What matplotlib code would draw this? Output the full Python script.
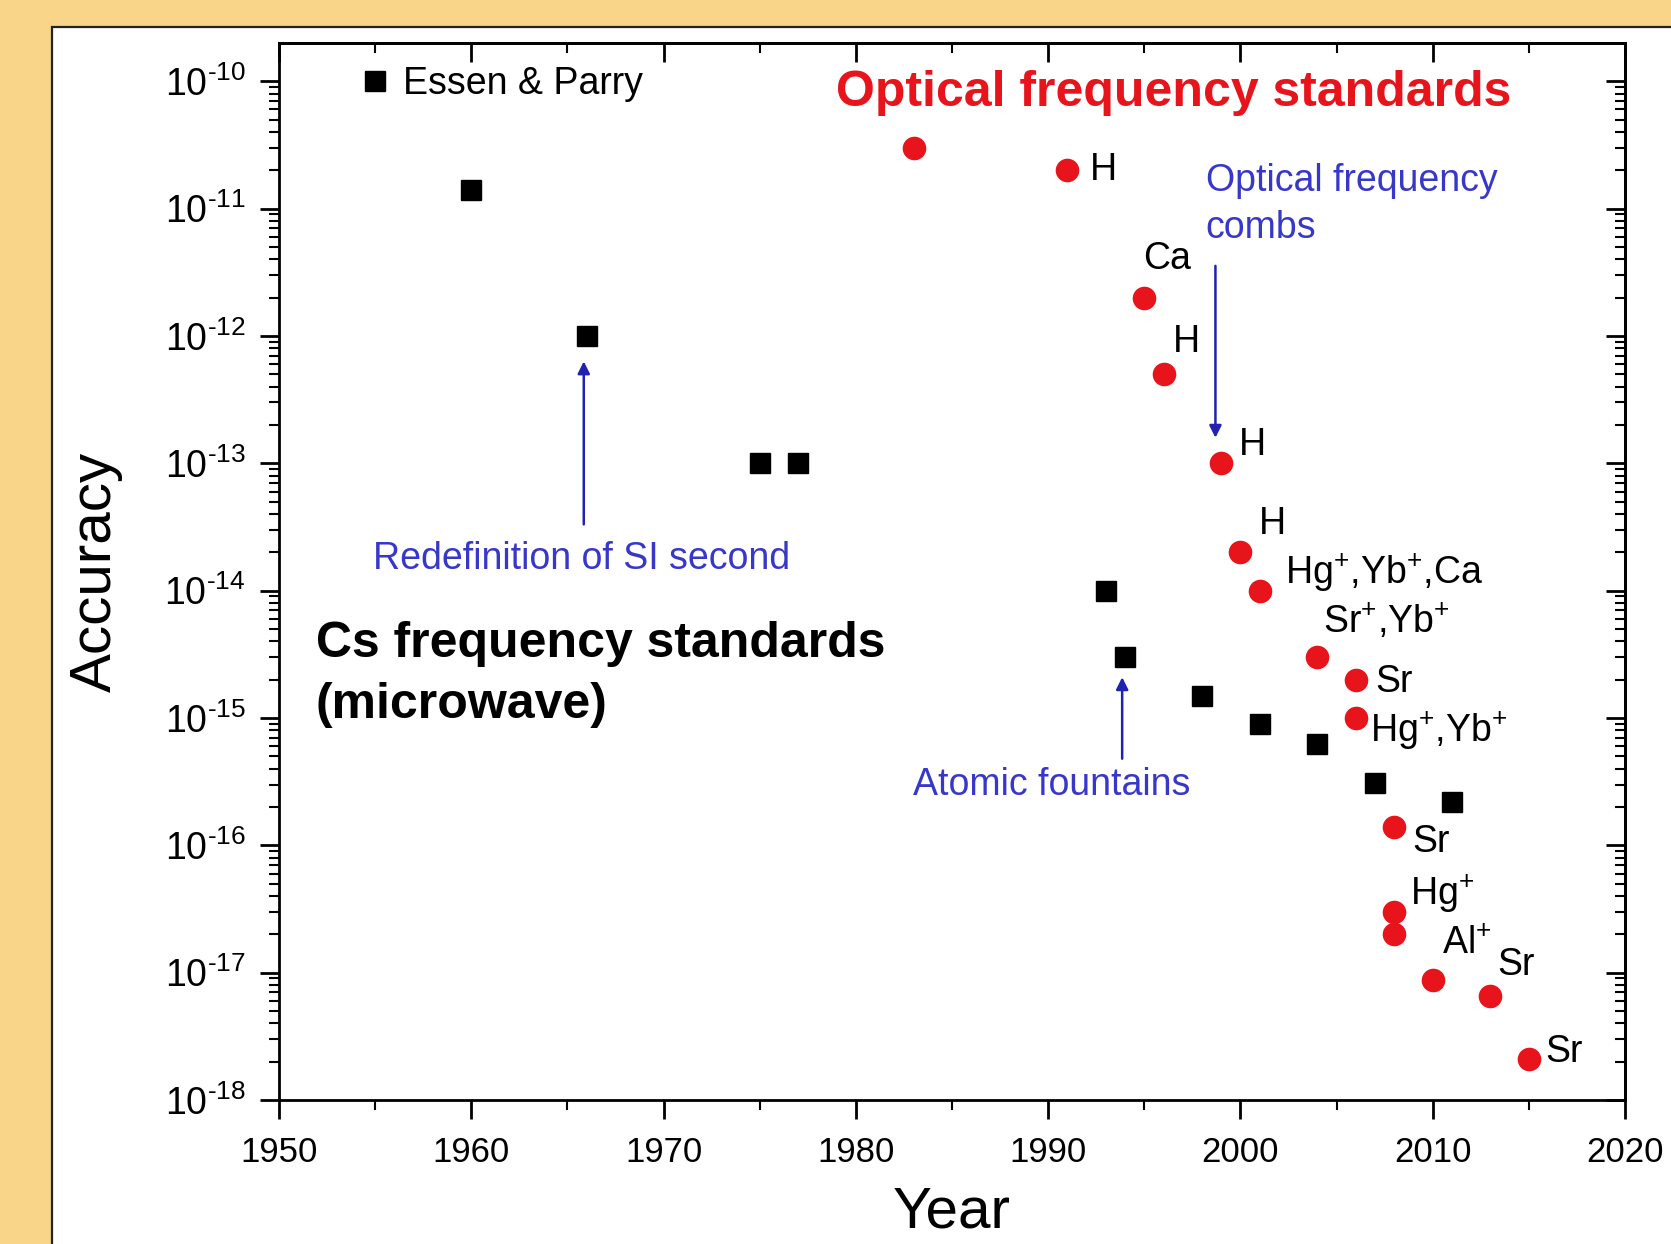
import matplotlib
matplotlib.use('Agg')
import matplotlib.pyplot as plt
from matplotlib.patches import Rectangle
from matplotlib.ticker import LogLocator, MultipleLocator, NullFormatter, FuncFormatter
import numpy as np

plt.rcParams['font.family'] = ['Liberation Sans', 'DejaVu Sans']
plt.rcParams['mathtext.fontset'] = 'custom'
plt.rcParams['mathtext.rm'] = 'Liberation Sans'
plt.rcParams['mathtext.it'] = 'Liberation Sans:italic'
plt.rcParams['mathtext.bf'] = 'Liberation Sans:bold'

# Cs (microwave) standards
cs_year = [1955, 1960, 1966, 1975, 1977, 1993, 1994, 1998, 2001, 2004, 2007, 2011]
cs_acc = [1e-10, 1.4e-11, 1e-12, 1e-13, 1e-13, 1e-14, 3e-15, 1.5e-15, 9e-16, 6.2e-16, 3.1e-16, 2.2e-16]
cs_labels = ['Essen & Parry', '', '', '', '', '', '', '', '', '', '', '']

# optical standards
opt_year = [1983, 1991, 1995, 1996, 1999, 2000, 2001, 2004, 2006, 2006, 2008, 2008, 2008, 2010, 2013, 2015]
opt_acc = [3e-11, 2e-11, 2e-12, 5e-13, 1e-13, 2e-14, 1e-14, 3e-15, 2e-15, 1e-15,
           1.4e-16, 3e-17, 2e-17, 8.7e-18, 6.5e-18, 2.1e-18]
opt_labels = ['', 'H', 'Ca', 'H', 'H', 'H', r'Hg$^{+}$,Yb$^{+}$,Ca', r'Sr$^{+}$,Yb$^{+}$', 'Sr',
              r'Hg$^{+}$,Yb$^{+}$', 'Sr', r'Hg$^{+}$', '', r'Al$^{+}$', 'Sr', 'Sr']

# label offsets (points) for the point labels
cs_off = [(20, -2)] + [(0, 0)] * 11
opt_off = [(0, 0), (16, 0), (-1, 28), (7, 23), (13, 13), (13, 20), (18, 13), (4, 26), (14, -2),
           (10, -9), (13, -11), (11, 13), (0, 0), (7, 26), (5, 23), (12, 5)]

blue_txt = '#3838c8'
blue_arr = '#2222b0'


def sci_label(v, pos):
    e = int(round(np.log10(v)))
    return r'$10^{\text{-%d}}$' % abs(e)


fig = plt.figure(figsize=(16.71, 12.44), dpi=100)
fig.patch.set_facecolor('#F9D58A')
panel = Rectangle((52 / 1671, -0.01), 1.0, 1 - 27 / 1244 + 0.01, transform=fig.transFigure,
                  facecolor='white', edgecolor='#222222', linewidth=1.6, zorder=-5)
fig.patches.append(panel)

ax = fig.add_axes([279 / 1671, 144 / 1244, 1346 / 1671, 1057 / 1244])
ax.set_facecolor('white')

ax.plot(cs_year, cs_acc, 's', color='black', markersize=15, linestyle='none', zorder=3)
ax.plot(opt_year, opt_acc, 'o', color='#E8141C', markersize=17, markeredgewidth=0,
        linestyle='none', zorder=3)

for x, y, t, o in zip(cs_year, cs_acc, cs_labels, cs_off):
    if t:
        ax.annotate(t, (x, y), xytext=o, textcoords='offset points', ha='left', va='center',
                    fontsize=27)
for x, y, t, o in zip(opt_year, opt_acc, opt_labels, opt_off):
    if t:
        ax.annotate(t, (x, y), xytext=o, textcoords='offset points', ha='left', va='center',
                    fontsize=27)

ax.set_yscale('log')
ax.set_xlim(1950, 2020)
ax.set_ylim(1e-18, 10 ** -9.7)

ax.xaxis.set_major_locator(MultipleLocator(10))
ax.xaxis.set_minor_locator(MultipleLocator(5))
ax.yaxis.set_major_locator(LogLocator(base=10, numticks=20))
ax.yaxis.set_minor_locator(LogLocator(base=10, subs=range(2, 10), numticks=20))
ax.yaxis.set_major_formatter(FuncFormatter(sci_label))
ax.yaxis.set_minor_formatter(NullFormatter())

ax.tick_params(which='major', direction='out', length=14, width=2, labelsize=25)
ax.tick_params(which='minor', direction='out', length=7, width=1.5)
ax.tick_params(axis='x', pad=12)
ax.tick_params(axis='y', pad=10, labelsize=27)
for s in ax.spines.values():
    s.set_linewidth(2)

# mirrored axes with inward ticks
top = ax.secondary_xaxis('top')
top.xaxis.set_major_locator(MultipleLocator(10))
top.xaxis.set_minor_locator(MultipleLocator(5))
top.tick_params(which='major', direction='in', length=14, width=2, labeltop=False)
top.tick_params(which='minor', direction='in', length=7, width=1.5)
top.spines['top'].set_linewidth(2)
right = ax.secondary_yaxis('right')
right.yaxis.set_major_locator(LogLocator(base=10, numticks=20))
right.yaxis.set_minor_locator(LogLocator(base=10, subs=range(2, 10), numticks=20))
right.tick_params(which='major', direction='in', length=14, width=2, labelright=False)
right.tick_params(which='minor', direction='in', length=7, width=1.5, labelright=False)
right.spines['right'].set_linewidth(2)

ax.set_xlabel('Year', fontsize=42, labelpad=12)
ax.set_ylabel('Accuracy', fontsize=42, labelpad=30)

ax.text(1996.5, 10 ** -10.09, 'Optical frequency standards', color='#E8141C', fontsize=36,
        fontweight='bold', ha='center', va='center')
ax.text(1951.9, 10 ** -14.66, 'Cs frequency standards\n(microwave)', color='black', fontsize=36,
        fontweight='bold', ha='left', va='center', linespacing=1.43)
ax.text(1998.2, 10 ** -10.97, 'Optical frequency\ncombs', color=blue_txt, fontsize=27,
        ha='left', va='center', linespacing=1.4)
ax.text(1965.74, 10 ** -13.75, 'Redefinition of SI second', color=blue_txt, fontsize=27,
        ha='center', va='center')
ax.text(1990.2, 10 ** -15.53, 'Atomic fountains', color=blue_txt, fontsize=27,
        ha='center', va='center')

arrow = dict(arrowstyle='-|>', color=blue_arr, lw=1.8, mutation_scale=18, shrinkA=0, shrinkB=0)
ax.annotate('', xy=(1998.7, 10 ** -12.8), xytext=(1998.7, 10 ** -11.45), arrowprops=arrow)
ax.annotate('', xy=(1965.85, 10 ** -12.2), xytext=(1965.85, 10 ** -13.48), arrowprops=arrow)
ax.annotate('', xy=(1993.85, 10 ** -14.68), xytext=(1993.85, 10 ** -15.32), arrowprops=arrow)

fig.savefig('out.png', dpi=100, facecolor=fig.get_facecolor())
